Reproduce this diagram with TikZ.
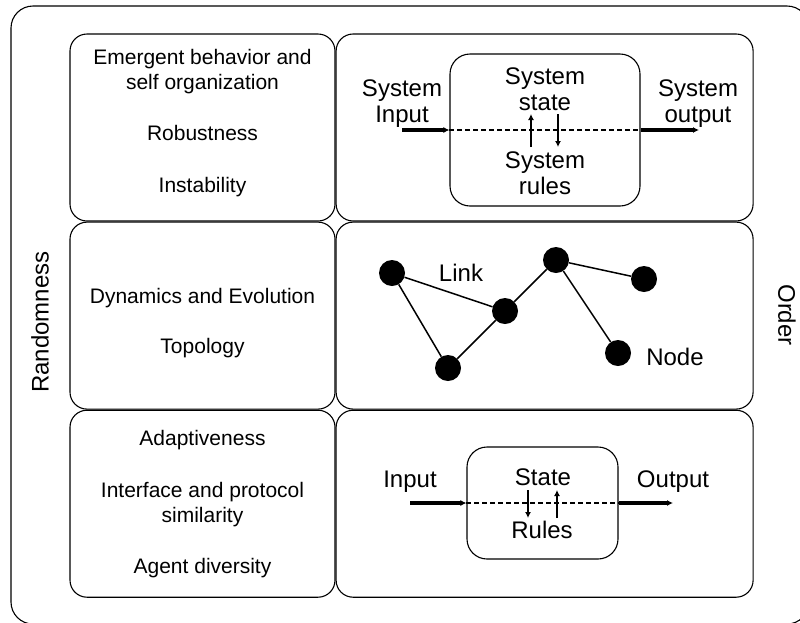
\documentclass[tikz,border=0pt]{standalone}
\usepackage{fontspec}
\setmainfont{Liberation Sans}
\usetikzlibrary{arrows.meta, positioning}

\begin{document}
\begin{tikzpicture}[
	x=1pt, y=-1pt,
	node distance=0pt and 0pt,
	panel/.style={
		draw,
		line width=1.1pt,
		rounded corners=17pt,
		minimum height=187pt,
		inner sep=0pt
	},
	leftpanel/.style={panel, minimum width=265pt},
	rightpanel/.style={panel, minimum width=417pt},
	inbox/.style={draw, line width=1.1pt, rounded corners=20pt, inner sep=0pt},
	item/.style={font=\fontsize{21}{25}\selectfont, align=center, inner sep=0pt},
	big/.style={font=\fontsize{24}{26}\selectfont, align=center, inner sep=0pt},
	dot/.style={circle, fill=black, minimum size=26pt, inner sep=0pt},
	link/.style={line width=1.5pt},
	flow/.style={-{Latex[length=6pt,width=6pt]}, line width=3.5pt},
	hidden/.style={dash pattern=on 5pt off 3pt, line width=1.2pt},
	updown/.style={-{Latex[length=6pt,width=6pt]}, line width=2.8pt}
]

	% frame of the whole figure, cut at the page edges
	\path[use as bounding box] (0,0) rectangle (800,622);
	\begin{scope}
		\clip (0,0) rectangle (800,622);
		\draw[line width=1.1pt, rounded corners=22pt] (11,6) rectangle (809,624);
	\end{scope}

	\node[rotate=90, big] (rand) at (40,322) {Randomness};
	\node[rotate=-90, big] (order) at (787,315) {Order};

	% the six panels
	\node[leftpanel] (propA) at (202.5,127.5) {};
	\node[leftpanel, below=of propA] (propB) {};
	\node[leftpanel, below=of propB] (propC) {};
	\node[rightpanel, right=of propA] (figA) {};
	\node[rightpanel, right=of propB] (figB) {};
	\node[rightpanel, right=of propC] (figC) {};

	% properties
	\node[item] (emerg) at (202.5,71.5) {Emergent behavior and\\self organization};
	\node[item] (robust) at (202.5,133) {Robustness};
	\node[item] (instab) at (202.5,187) {Instability};
	\node[item] (dynam) at (202.5,298) {Dynamics and Evolution};
	\node[item] (topo) at (202.5,348) {Topology};
	\node[item] (adapt) at (202.5,440) {Adaptiveness};
	\node[item] (iface) at (202.5,504.5) {Interface and protocol\\similarity};
	\node[item] (agent) at (202.5,568) {Agent diversity};

	% system view
	\node[inbox, minimum width=190pt, minimum height=152pt] (sysbox) at (545,130) {};
	\node[big] (sysstate) at (545,89.5) {System\\state};
	\node[big] (sysrules) at (545,173.5) {System\\rules};
	\node[big] (sysinlbl) at (402,103.5) {System\\Input};
	\node[big] (sysoutlbl) at (698,103.5) {System\\output};
	\coordinate (sysin) at (402,130);
	\coordinate (sysout) at (699,130);
	\coordinate (sysupA) at (531,147);
	\coordinate (sysupB) at (531,114);
	\coordinate (sysdnA) at (558,114);
	\coordinate (sysdnB) at (558,147);

	\draw[flow] (sysin) -- (sysbox.west);
	\draw[hidden] (sysbox.west) -- (sysbox.east);
	\draw[flow] (sysbox.east) -- (sysout);
	\draw[updown] (sysupA) -- (sysupB);
	\draw[updown] (sysdnA) -- (sysdnB);

	% network
	\node[dot] (n1) at (392,273) {};
	\node[dot] (n2) at (448,368) {};
	\node[dot] (n3) at (505,311) {};
	\node[dot] (n4) at (556,260) {};
	\node[dot] (n5) at (644,279) {};
	\node[dot] (n6) at (618,353) {};
	\node[big] (linklbl) at (461,273) {Link};
	\node[big] (nodelbl) at (675,357) {Node};

	\draw[link] (n1) -- (n2);
	\draw[link] (n1) -- (n3);
	\draw[link] (n2) -- (n3);
	\draw[link] (n3) -- (n4);
	\draw[link] (n4) -- (n5);
	\draw[link] (n4) -- (n6);

	% agent view
	\node[inbox, minimum width=151pt, minimum height=112pt] (agbox) at (542.5,503) {};
	\node[big] (aglstate) at (543,477) {State};
	\node[big] (aglrules) at (542,530) {Rules};
	\node[big] (aginlbl) at (410,482) {Input};
	\node[big] (agoutlbl) at (673,482) {Output};
	\coordinate (agin) at (410,503);
	\coordinate (agout) at (673,503);
	\coordinate (agdnA) at (528,490);
	\coordinate (agdnB) at (528,518);
	\coordinate (agupA) at (557,518);
	\coordinate (agupB) at (557,490);

	\draw[flow] (agin) -- (agbox.west);
	\draw[hidden] (agbox.west) -- (agbox.east);
	\draw[flow] (agbox.east) -- (agout);
	\draw[updown] (agdnA) -- (agdnB);
	\draw[updown] (agupA) -- (agupB);

\end{tikzpicture}
\end{document}
